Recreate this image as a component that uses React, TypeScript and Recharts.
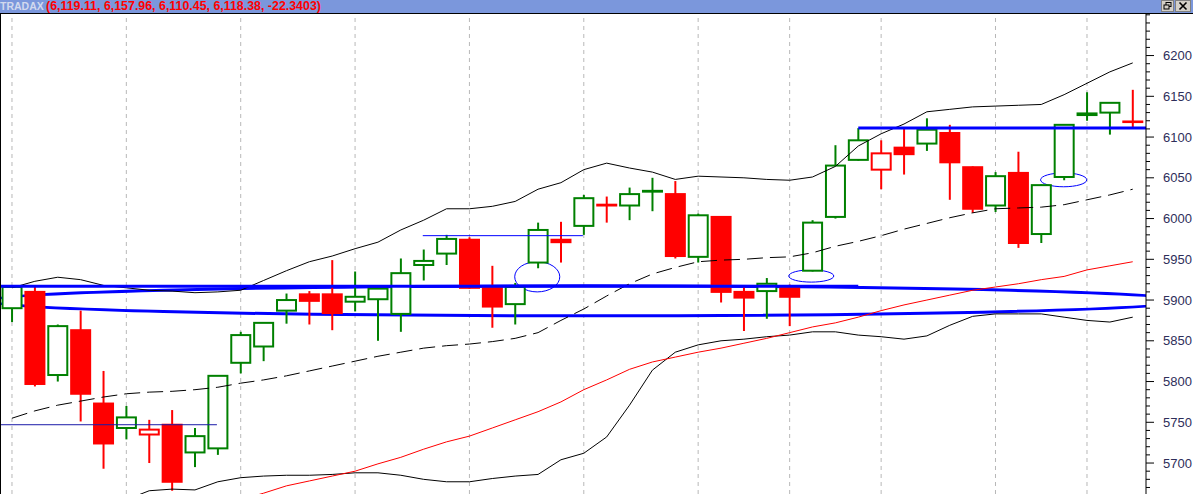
import {
  Bar,
  ComposedChart,
  Line,
  ReferenceArea,
  ReferenceLine,
  XAxis,
  YAxis,
} from 'recharts'

const openPrices = [
  5890, 5910, 5808, 5863, 5773, 5743, 5735, 5747, 5713, 5718,
  5823, 5843, 5887, 5907, 5907, 5898, 5901, 5883, 5943, 5957,
  5974, 5916, 5895, 5946, 5974, 5991, 6017, 6016, 6033, 6030,
  5953, 6002, 5910, 5911, 5916, 5936, 6002, 6072, 6060, 6087,
  6092, 6105, 6063, 6016, 6056, 5981, 6051, 6127, 6130, 6119.11,
]
const highPrices = [
  5917, 5916, 5870, 5887, 5813, 5770, 5753, 5765, 5743, 5808,
  5861, 5873, 5908, 5911, 5949, 5935, 5915, 5951, 5962, 5980,
  5977, 5942, 5921, 5995, 5996, 6029, 6027, 6038, 6050, 6046,
  6006, 6003, 5916, 5927, 5919, 5998, 6090, 6111, 6096, 6111,
  6123, 6115, 6064, 6057, 6082, 6042, 6116, 6155, 6143, 6157.96,
]
const lowPrices = [
  5873, 5794, 5800, 5751, 5693, 5729, 5700, 5666, 5695, 5710,
  5810, 5825, 5871, 5870, 5863, 5886, 5850, 5861, 5924, 5943,
  5914, 5866, 5870, 5939, 5946, 5980, 5995, 5998, 6009, 5951,
  5946, 5897, 5862, 5877, 5868, 5935, 6000, 6071, 6036, 6054,
  6083, 6023, 6007, 6008, 5964, 5970, 6047, 6120, 6103, 6110.45,
]
const closePrices = [
  5916, 5797, 5868, 5785, 5724, 5756, 5741, 5677, 5733, 5807,
  5857, 5872, 5900, 5899, 5884, 5904, 5914, 5933, 5948, 5975,
  5915, 5892, 5916, 5986, 5971, 6025, 6016, 6030, 6034, 5954,
  6004, 5910, 5903, 5920, 5904, 5995, 6065, 6096, 6080, 6079,
  6109, 6069, 6012, 6052, 5970, 6041, 6115, 6129, 6142, 6118.38,
]

// bollinger bands + moving average
const upperBand = [
  5915, 5923, 5928, 5925, 5918, 5915, 5912, 5911, 5909, 5910,
  5912, 5924, 5936, 5947, 5954, 5963, 5971, 5986, 5998, 6012,
  6012, 6015, 6021, 6036, 6044, 6060, 6068, 6062, 6057, 6048,
  6052, 6051, 6050, 6048, 6047, 6051, 6064, 6089, 6104, 6116,
  6131, 6134, 6137, 6138, 6139, 6140, 6152, 6166, 6180, 6191,
]
const middleBand = [
  5755, 5764, 5771, 5776, 5781, 5785, 5787, 5788, 5790, 5793,
  5798, 5802, 5807, 5813, 5819, 5825, 5831, 5836, 5841, 5844,
  5846, 5849, 5853, 5860, 5875, 5889, 5905, 5920, 5932, 5940,
  5947, 5949, 5950, 5952, 5953, 5958, 5966, 5972, 5979, 5987,
  5994, 6001, 6007, 6012, 6013, 6014, 6017, 6023, 6029, 6036,
]
const lowerBand = [
  null, null, null, null, null, 5655, 5666, 5668, 5667, 5677,
  5682, 5684, 5685, 5685, 5686, 5688, 5688, 5685, 5680, 5677,
  5677, 5681, 5684, 5686, 5704, 5712, 5732, 5771, 5814, 5836,
  5845, 5850, 5852, 5855, 5857, 5861, 5861, 5857, 5855, 5852,
  5856, 5869, 5880, 5883, 5883, 5883, 5879, 5875, 5873, 5879,
]
const movingAverage = [
  null, null, null, null, null, null, null, null, null, null,
  5655, 5663, 5672, 5678, 5684, 5690, 5699, 5707, 5717, 5726,
  5733, 5743, 5753, 5763, 5775, 5790, 5802, 5815, 5824, 5830,
  5836, 5841, 5847, 5853, 5860, 5867, 5872, 5879, 5887, 5894,
  5900, 5906, 5912, 5916, 5920, 5925, 5929, 5937, 5942, 5947,
]

const weekStarts = [0, 5, 10, 15, 20, 25, 30, 34, 38, 43, 47]
const priceLabels = [5700, 5750, 5800, 5850, 5900, 5950, 6000, 6050, 6100, 6150, 6200]
const quote = ['6,119.11', '6,157.96', '6,110.45', '6,118.38', '-22.3403']

// hand drawn annotations, in bar index / price units
const thickLevels = [
  { from: -0.48, to: 37, price: 5917 },
  { from: 37, to: 49.58, price: 6111 },
]
const thinLevels = [
  { from: -0.48, to: 8.96, price: 5747, color: '#1a1aa8' },
  { from: 17.96, to: 24.96, price: 5979, color: '#0000ff' },
]
const bigEllipse = { x1: -1.05, x2: 51.35, y1: 5880.6, y2: 5917.4 }
const smallEllipses = [
  { x1: 21.98, x2: 23.95, y1: 5910, y2: 5947 },
  { x1: 33.96, x2: 35.93, y1: 5922, y2: 5937 },
  { x1: 44.97, x2: 46.99, y1: 6039, y2: 6056 },
]

const axisTicks: number[] = []
for (let v = 5670; v <= 6250; v += 10) axisTicks.push(v)

const candles = openPrices.map((open, i) => ({
  i,
  open,
  high: highPrices[i],
  low: lowPrices[i],
  close: closePrices[i],
  range: [lowPrices[i], highPrices[i]],
  up: i === 0 || closePrices[i] >= closePrices[i - 1],
  upper: upperBand[i],
  middle: middleBand[i],
  lower: lowerBand[i],
  ma: movingAverage[i],
}))

const GREEN = '#008000'
const RED = '#ff0000'
const BLUE = '#0000ff'

const CHART_W = 1193
const CHART_H = 480
const AXIS_W = 47
const MARGIN_LEFT = 1

function Candle(props: any) {
  const { x, y, width, height, payload } = props
  const { open, close, high, low, up } = payload
  const top0 = Math.min(y, y + height)
  const h = Math.abs(height)
  const span = high - low || 1
  const py = (v: number) => top0 + ((high - v) / span) * h
  const color = up ? GREEN : RED
  const cx = x + width / 2
  const bodyTop = py(Math.max(open, close))
  const bodyBottom = py(Math.min(open, close))
  const hollow = close >= open
  return (
    <g>
      <line x1={cx} x2={cx} y1={top0} y2={top0 + h} stroke={color} strokeWidth={2} />
      <rect
        x={x + 1}
        y={bodyTop}
        width={width - 2}
        height={Math.max(bodyBottom - bodyTop, 0.5)}
        fill={hollow ? '#ffffff' : color}
        stroke={color}
        strokeWidth={2}
      />
    </g>
  )
}

function PriceTick(props: any) {
  const { x, y, payload } = props
  const value = payload.value as number
  const major = priceLabels.includes(value)
  const axisX = x - 17
  return (
    <g>
      <line x1={axisX} x2={axisX + (major ? 8 : 4)} y1={y} y2={y} stroke="#000" />
      {major && (
        <text
          x={x}
          y={y}
          dy={4.5}
          fill="#2e2e5a"
          fontSize={13}
          fontFamily="'Liberation Sans', Arial, sans-serif"
        >
          {value}
        </text>
      )}
    </g>
  )
}

// recharts does not clip reference areas here, so clip to the plot box ourselves
function ellipseShape(strokeWidth: number, id: string) {
  return (p: any) => (
    <g>
      <defs>
        <clipPath id={id}>
          <rect x={MARGIN_LEFT} y={0} width={CHART_W - AXIS_W - MARGIN_LEFT} height={CHART_H} />
        </clipPath>
      </defs>
      <ellipse
        clipPath={`url(#${id})`}
        cx={p.x + p.width / 2}
        cy={p.y + p.height / 2}
        rx={Math.abs(p.width / 2)}
        ry={Math.abs(p.height / 2)}
        fill="none"
        stroke={BLUE}
        strokeWidth={strokeWidth}
      />
    </g>
  )
}

export default function App() {
  return (
    <div
      style={{
        position: 'fixed',
        left: 0,
        top: 0,
        width: 1193,
        height: 494,
        background: '#fff',
        overflow: 'hidden',
        fontFamily: "'Liberation Sans', Arial, sans-serif",
      }}
    >
      <div
        style={{
          position: 'absolute',
          left: 0,
          top: 0,
          width: 1193,
          height: 13,
          background: '#7b97dc',
          fontWeight: 700,
          lineHeight: '13px',
          whiteSpace: 'nowrap',
        }}
      >
        <span style={{ position: 'absolute', left: 0, fontSize: 10.5, color: '#d2d9ee' }}>TRADAX</span>
        <span style={{ position: 'absolute', left: 46, fontSize: 12.4, color: '#ff0000' }}>
          ({quote.join(', ')})
        </span>
        <svg width={32} height={13} style={{ position: 'absolute', left: 1160, top: 0 }}>
          <rect x={1.5} y={0.5} width={12} height={11} fill="#d4d0c8" stroke="#808080" />
          <rect x={6} y={2.5} width={5} height={4} fill="none" stroke="#000" />
          <rect x={4} y={5} width={5} height={4} fill="#d4d0c8" stroke="#000" />
          <rect x={15.5} y={0.5} width={15} height={11} fill="#d4d0c8" stroke="#808080" />
          <path d="M19.5 2.5 L26.5 9.5 M26.5 2.5 L19.5 9.5" stroke="#000" strokeWidth={1.6} />
        </svg>
      </div>
      <div style={{ position: 'absolute', left: 0, top: 13, width: 1193, height: 1, background: '#000' }} />
      <div style={{ position: 'absolute', left: 0, top: 14, width: 1, height: 480, background: '#000' }} />
      <div style={{ position: 'absolute', left: 0, top: 14 }}>
        <ComposedChart
          width={CHART_W}
          height={CHART_H}
          data={candles}
          margin={{ top: 0, right: 0, bottom: 0, left: MARGIN_LEFT }}
        >
          <XAxis
            type="number"
            dataKey="i"
            domain={[-0.48, 49.58]}
            allowDataOverflow
            hide
          />
          <YAxis
            orientation="right"
            type="number"
            domain={[5662, 6251]}
            allowDataOverflow
            ticks={axisTicks}
            interval={0}
            tick={PriceTick}
            tickLine={false}
            tickSize={8}
            tickMargin={9}
            axisLine={{ stroke: '#000' }}
            width={AXIS_W}
          />
          {weekStarts.map((w) => (
            <ReferenceLine
              key={`w${w}`}
              x={w}
              stroke="#b8b8b8"
              strokeDasharray="4 4"
              zIndex={-100}
            />
          ))}
          <Bar
            dataKey="range"
            barSize={21}
            shape={Candle}
            isAnimationActive={false}
          />
          <Line
            dataKey="upper"
            stroke="#000"
            strokeWidth={1}
            dot={false}
            type="linear"
            isAnimationActive={false}
          />
          <Line
            dataKey="middle"
            stroke="#000"
            strokeWidth={1}
            strokeDasharray="16 7"
            dot={false}
            type="linear"
            isAnimationActive={false}
          />
          <Line
            dataKey="lower"
            stroke="#000"
            strokeWidth={1}
            dot={false}
            type="linear"
            isAnimationActive={false}
          />
          <Line
            dataKey="ma"
            stroke={RED}
            strokeWidth={1}
            dot={false}
            type="linear"
            isAnimationActive={false}
          />
          {thickLevels.map((l) => (
            <ReferenceLine
              key={`t${l.price}`}
              segment={[
                { x: l.from, y: l.price },
                { x: l.to, y: l.price },
              ]}
              stroke={BLUE}
              strokeWidth={3}
              ifOverflow="hidden"
            />
          ))}
          {thinLevels.map((l) => (
            <ReferenceLine
              key={`n${l.price}`}
              segment={[
                { x: l.from, y: l.price },
                { x: l.to, y: l.price },
              ]}
              stroke={l.color}
              strokeWidth={1}
              ifOverflow="hidden"
            />
          ))}
          <ReferenceArea
            x1={bigEllipse.x1}
            x2={bigEllipse.x2}
            y1={bigEllipse.y1}
            y2={bigEllipse.y2}
            ifOverflow="hidden"
            shape={ellipseShape(3, 'clip-big')}
          />
          {smallEllipses.map((e, k) => (
            <ReferenceArea
              key={`e${e.x1}`}
              x1={e.x1}
              x2={e.x2}
              y1={e.y1}
              y2={e.y2}
              ifOverflow="hidden"
              shape={ellipseShape(1, `clip-small-${k}`)}
            />
          ))}
        </ComposedChart>
      </div>
    </div>
  )
}
